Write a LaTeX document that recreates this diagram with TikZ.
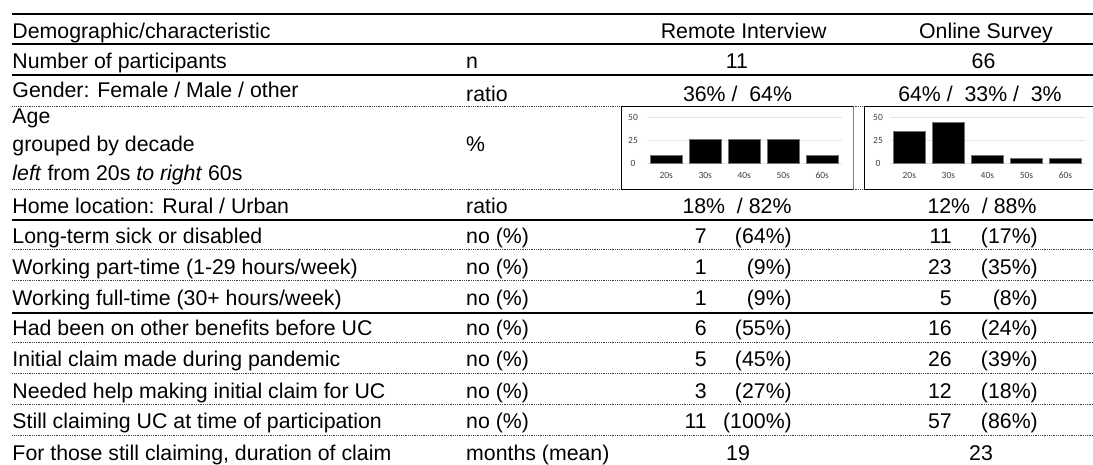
\documentclass[tikz,border=0pt]{standalone}
\usepackage{fontspec}
\setmainfont{Liberation Sans}
\newfontfamily\chartfont{Carlito}
\begin{document}
\begin{tikzpicture}[x=1pt,y=-1pt,
  txt/.style={inner sep=0pt, font=\fontsize{21.3}{25.5}\selectfont},
  lft/.style={txt, anchor=base west},
  num/.style={txt, anchor=base east},
  mid/.style={txt, anchor=base},
  thickrule/.style={line width=2.2pt},
  dotrule/.style={line width=0.9pt, dash pattern=on 0.9pt off 0.9pt, black!75},
  bar/.style={fill=black, draw=black!55, line width=0.5pt},
  gridl/.style={draw=black!10, line width=0.7pt},
  ax/.style={inner sep=0pt, font=\chartfont\fontsize{9.5}{10}\selectfont, text=black!75},
  chartbox/.style={draw=black, line width=0.9pt}
]
\useasboundingbox (0,0) rectangle (1093,464);

% ---- rules
\foreach \y in {14,44.3,74.7,220,312.7}
  \draw[thickrule] (12.3,\y) -- (1093,\y);
\foreach \y in {106,189,249.3,280,342.7,373,404,435}
  \draw[dotrule] (12.3,\y) -- (1093,\y);

% ---- header
\node[lft] (h1) at (12.3,38.3) {Demographic/characteristic};
\node[mid] (h3) at (743.7,38.3) {Remote Interview};
\node[mid] (h4) at (986,38.3) {Online Survey};

% ---- number
\node[lft] (n1) at (12.3,68.3) {Number of participants};
\node[lft] (n2) at (466,68.3) {n};
\node[mid] (n3) at (737,68.3) {11};
\node[mid] (n4) at (983.5,68.3) {66};

% ---- gender
\node[lft] (g1) at (12.3,97) {Gender: Female / Male / other};
\node[lft] (g2) at (466,101) {ratio};
\node[mid] (g3) at (737.5,101) {36\% /\ \ 64\%};
\node[mid] (g4) at (980,101) {64\% /\ \ 33\% /\ \ 3\%};

% ---- age
\node[lft] (a1) at (12.3,123) {Age};
\node[lft] (a1b) at (12.3,151.7) {grouped by decade};
\node[lft] (a1c) at (12.3,180) {\textit{left} from 20s \textit{to right} 60s};
\node[lft] (a2) at (466,151.7) {\%};

% ---- charts
\draw[chartbox] (853.3,189) -- (621.7,189) -- (621.7,106.7) -- (853.3,106.7);
\draw[black!50, line width=0.9pt] (853.3,106.7) -- (853.3,189);
\draw[chartbox] (1093,106.7) -- (864,106.7) -- (864,189) -- (1093,189);

\foreach \v/\yy in {50/117.7,25/140.5,0/163.3}{
  \draw[gridl] (647.7,\yy) -- (841.7,\yy);
  \draw[gridl] (890,\yy) -- (1085,\yy);
  \node[ax] (ra\v) at (633,\yy) {\v};
  \node[ax] (oa\v) at (878,\yy) {\v};
}
\foreach \i/\h/\lab in {0/27.3/20s,1/81.8/30s,2/81.8/40s,3/81.8/50s,4/27.3/60s}{
  \pgfmathsetmacro{\cx}{666.2+39*\i}
  \pgfmathsetmacro{\top}{163.3-\h*0.3}
  \draw[bar] (\cx-16.2,163.3) rectangle (\cx+16.2,\top);
  \node[ax] (rc\i) at (\cx,175.7) {\lab};
}
\foreach \i/\h/\lab in {0/105.3/20s,1/136.5/30s,2/27.3/40s,3/18.2/50s,4/15.5/60s}{
  \pgfmathsetmacro{\cx}{909.3+39.05*\i}
  \pgfmathsetmacro{\top}{163.3-\h*0.3}
  \draw[bar] (\cx-16.2,163.3) rectangle (\cx+16.2,\top);
  \node[ax] (oc\i) at (\cx,175.7) {\lab};
}

% ---- home location
\node[lft] (l1) at (12.3,213.3) {Home location: Rural / Urban};
\node[lft] (l2) at (466,213.3) {ratio};
\node[mid] (l3) at (737,213.3) {18\%\ \ / 82\%};
\node[mid] (l4) at (982,213.3) {12\%\ \ / 88\%};

% ---- count rows
\foreach \k/\yb/\lab/\rn/\rp/\on/\op in {
  1/243.3/{Long-term sick or disabled}/7/(64\%)/11/(17\%),
  2/274/{Working part-time (1-29 hours/week)}/1/(9\%)/23/(35\%),
  3/305/{Working full-time (30+ hours/week)}/1/(9\%)/5/(8\%),
  4/335/{Had been on other benefits before UC}/6/(55\%)/16/(24\%),
  5/366/{Initial claim made during pandemic}/5/(45\%)/26/(39\%),
  6/398/{Needed help making initial claim for UC}/3/(27\%)/12/(18\%),
  7/428.5/{Still claiming UC at time of participation}/11/(100\%)/57/(86\%)}{
  \node[lft] (c\k a) at (12.3,\yb) {\lab};
  \node[lft] (c\k b) at (466,\yb) {no (\%)};
  \node[num] (c\k c) at (707,\yb) {\rn};
  \node[num] (c\k d) at (792,\yb) {\rp};
  \node[num] (c\k e) at (952,\yb) {\on};
  \node[num] (c\k f) at (1038,\yb) {\op};
}

% ---- last row
\node[lft] (m1) at (12.3,460) {For those still claiming, duration of claim};
\node[lft] (m2) at (466,460) {months (mean)};
\node[mid] (m3) at (738,460) {19};
\node[mid] (m4) at (981,460) {23};
\end{tikzpicture}
\end{document}
